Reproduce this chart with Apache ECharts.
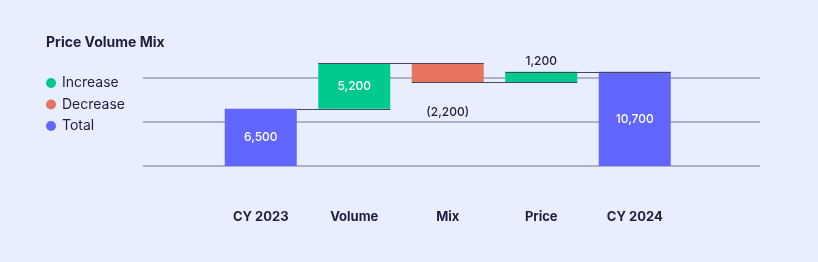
<!DOCTYPE html>
<html><head><meta charset="utf-8">
<script src="https://cdn.jsdelivr.net/npm/echarts@6/dist/echarts.min.js"></script>
<style>html,body{margin:0;padding:0;background:#E8EEFD;}#c{width:818px;height:262px;}</style>
</head><body><div id="c"></div>
<script>
const categories = ['CY 2023', 'Volume', 'Mix', 'Price', 'CY 2024'];
const values = [6500, 5200, -2200, 1200, 10700];
const kinds = ['total', 'increase', 'decrease', 'increase', 'total'];
const yTicks = [0, 5000, 10000];

const COLORS = { increase: '#00C98D', decrease: '#E5735F', total: '#6066FF' };
const TEXT = '#1E1F3F';
const FONT = 'Inter, "Noto Sans", sans-serif';

// build waterfall pieces
const base = [], inc = [], dec = [], tot = [], levels = [];
let cum = 0;
values.forEach((v, i) => {
  const k = kinds[i];
  if (k === 'total') {
    cum = v; base.push(0); tot.push(v); inc.push('-'); dec.push('-');
  } else if (k === 'increase') {
    base.push(cum); inc.push(v); dec.push('-'); tot.push('-'); cum += v;
  } else {
    cum += v; base.push(cum); dec.push(-v); inc.push('-'); tot.push('-');
  }
  levels.push(cum);
});
const connectors = [];
for (let i = 0; i < levels.length - 1; i++) connectors.push([i, levels[i]]);

const fmt = n => n.toLocaleString('en-US');
const BW = 72;

function labelFor(i, k) {
  const v = values[i];
  if (k === 'total') return { show: true, position: 'inside', color: '#fff', formatter: fmt(v) };
  if (k === 'decrease') return { show: true, position: 'bottom', distance: 24, color: TEXT, formatter: '(' + fmt(-v) + ')' };
  if (v >= 3000) return { show: true, position: 'inside', color: '#fff', formatter: fmt(v) };
  return { show: true, position: 'top', distance: 4, color: TEXT, formatter: fmt(v) };
}
function mk(arr, k) {
  return arr.map((v, i) => v === '-' ? '-' : { value: v, label: labelFor(i, k) });
}

const chart = echarts.init(document.getElementById('c'));
chart.setOption({
  backgroundColor: '#E8EEFD',
  animation: false,
  textStyle: { fontFamily: FONT },
  title: { text: 'Price Volume Mix', left: 46, top: 36, padding: 0, textStyle: { fontFamily: FONT, fontSize: 14, fontWeight: 'bold', color: TEXT } },
  legend: {
    orient: 'vertical', left: 46, top: 76, padding: 0, icon: 'circle', itemWidth: 10, itemHeight: 10, itemGap: 7.5,
    data: ['Increase', 'Decrease', 'Total'],
    textStyle: { fontFamily: FONT, fontSize: 14, color: TEXT, padding: [0, 0, 0, 1] }
  },
  grid: [
    { left: 143, right: 58, top: 34, bottom: 96 },
    { left: 214, right: 136.5, top: 34, bottom: 96 }
  ],
  xAxis: [
    { gridIndex: 0, type: 'value', show: false, min: 0, max: 1 },
    { gridIndex: 1, type: 'category', data: categories, axisLine: { show: false }, axisTick: { show: false },
      axisLabel: { margin: 45, fontFamily: FONT, fontSize: 13, fontWeight: 'bold', color: TEXT } }
  ],
  yAxis: [
    { gridIndex: 0, type: 'value', min: yTicks[0], max: 15000, interval: yTicks[1] - yTicks[0],
      axisLabel: { show: false }, axisLine: { show: false }, axisTick: { show: false },
      splitLine: { show: true, showMaxLine: false, lineStyle: { color: '#9A9FB1', width: 1.5 } } },
    { gridIndex: 1, type: 'value', min: yTicks[0], max: 15000, interval: 5000, show: false, splitLine: { show: false } }
  ],
  series: [
    { name: 'base', type: 'bar', xAxisIndex: 1, yAxisIndex: 1, stack: 'w', barWidth: BW, data: base,
      itemStyle: { color: 'rgba(0,0,0,0)' }, silent: true, label: { show: false } },
    { name: 'Increase', type: 'bar', xAxisIndex: 1, yAxisIndex: 1, stack: 'w', barWidth: BW, data: mk(inc, 'increase'),
      itemStyle: { color: COLORS.increase }, label: { fontFamily: FONT, fontSize: 12, fontWeight: 500 } },
    { name: 'Decrease', type: 'bar', xAxisIndex: 1, yAxisIndex: 1, stack: 'w', barWidth: BW, data: mk(dec, 'decrease'),
      itemStyle: { color: COLORS.decrease }, label: { fontFamily: FONT, fontSize: 12, fontWeight: 500 } },
    { name: 'Total', type: 'bar', xAxisIndex: 1, yAxisIndex: 1, stack: 'w', barWidth: BW, data: mk(tot, 'total'),
      itemStyle: { color: COLORS.total }, label: { fontFamily: FONT, fontSize: 12, fontWeight: 500 } },
    { name: 'conn', type: 'custom', xAxisIndex: 1, yAxisIndex: 1, z: 5, silent: true, data: connectors,
      renderItem: function (params, api) {
        const i = api.value(0), lv = api.value(1);
        const a = api.coord([i, lv]), b = api.coord([i + 1, lv]);
        const x1 = i === 0 ? a[0] + BW / 2 : a[0] - BW / 2;
        return { type: 'line', shape: { x1: x1, y1: Math.round(a[1]) + 0.5, x2: b[0] + BW / 2, y2: Math.round(a[1]) + 0.5 },
          style: { stroke: '#44475E', lineWidth: 1 } };
      } }
  ]
});
</script></body></html>
